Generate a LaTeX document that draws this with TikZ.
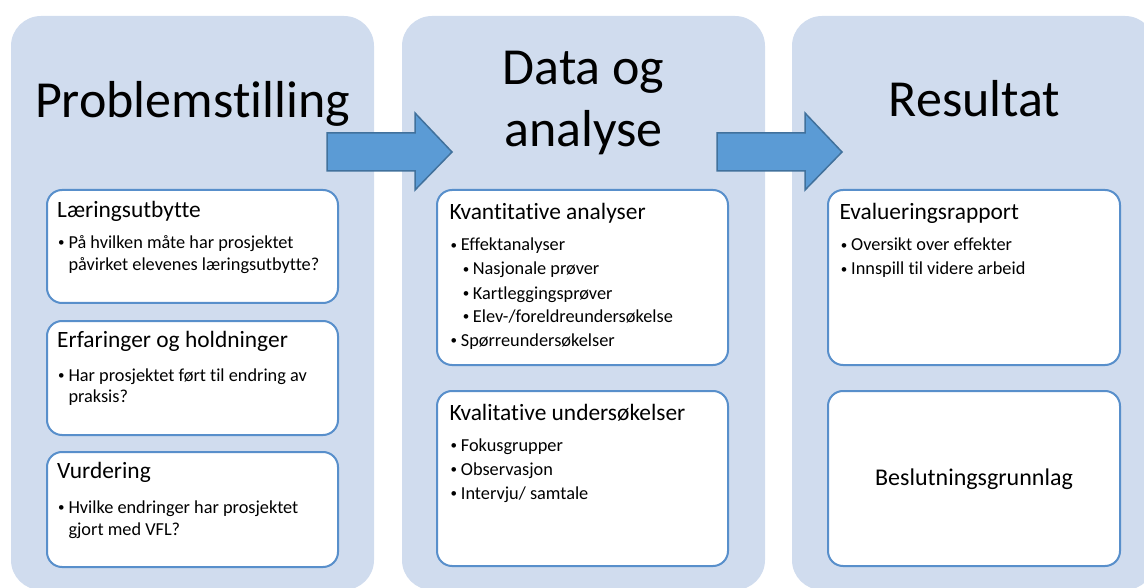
\documentclass[tikz,border=0pt]{standalone}
\usepackage{fontspec}
\setmainfont[Ligatures=NoCommon]{Carlito}
\definecolor{panelfill}{RGB}{208,220,238}
\definecolor{boxline}{RGB}{88,143,203}
\definecolor{arrowfill}{RGB}{91,155,213}
\definecolor{arrowline}{RGB}{65,113,156}
\tikzset{
  panel/.style={rectangle, fill=panelfill, rounded corners=30pt, minimum width=363pt, minimum height=574pt, inner sep=0pt},
  itembox/.style={rectangle, draw=boxline, fill=white, line width=2pt, rounded corners=15pt, inner sep=0pt},
  bigtitle/.style={anchor=base, inner sep=0pt, font=\fontsize{52}{62}\selectfont},
  heading/.style={anchor=base west, inner sep=0pt, font=\fontsize{23.4}{28}\selectfont},
  txt/.style={anchor=base west, inner sep=0pt, font=\fontsize{18.3}{22.3}\selectfont},
  dot/.style={anchor=base west, inner sep=0pt, font=\fontsize{13}{15}\selectfont}
}
\tikzset{bigarrow/.style={fill=arrowfill, draw=arrowline, line width=1.5pt, line join=miter}}
\begin{document}
\begin{tikzpicture}[x=1pt, y=-1pt]
\useasboundingbox (0,0) rectangle (1144,588);
\clip (0,0) rectangle (1144,588);
% panels
\node[panel] (p1) at (192.5,303) {};
\node[panel] (p2) at (583.5,303) {};
\node[panel] (p3) at (973.5,303) {};
% titles
\node[bigtitle] (t1) at (192.5,118) {Problemstilling};
\node[bigtitle] (t2a) at (583.5,85) {Data og};
\node[bigtitle] (t2b) at (583.5,147) {analyse};
\node[bigtitle] (t3) at (974.5,117) {Resultat};
% arrows
\draw[bigarrow] (327,133) -- (415,133) -- (415,113) -- (452,152) -- (415,190) -- (415,171) -- (327,171) -- cycle;
\draw[bigarrow] (717,133) -- (805,133) -- (805,113) -- (842,152) -- (805,190) -- (805,171) -- (717,171) -- cycle;
% left boxes
\node[itembox, minimum width=291pt, minimum height=113pt] (l1) at (192.5,246.5) {};
\node[itembox, minimum width=291pt, minimum height=114pt] (l2) at (192.5,378) {};
\node[itembox, minimum width=291pt, minimum height=115pt] (l3) at (192.5,509.5) {};
\node[heading] (l1h) at (57,217.5) {Læringsutbytte};
\node[dot] (l1b) at (58,246.5) {•};
\node[txt] (l1t1) at (68.3,248.3) {På hvilken måte har prosjektet};
\node[txt] (l1t2) at (68.3,270.7) {påvirket elevenes læringsutbytte?};
\node[heading] (l2h) at (57,347.7) {Erfaringer og holdninger};
\node[dot] (l2b) at (58,379.2) {•};
\node[txt] (l2t1) at (68.3,381) {Har prosjektet ført til endring av};
\node[txt] (l2t2) at (68.3,402.7) {praksis?};
\node[heading] (l3h) at (57,478.3) {Vurdering};
\node[dot] (l3b) at (58,511.5) {•};
\node[txt] (l3t1) at (68.3,513.3) {Hvilke endringer har prosjektet};
\node[txt] (l3t2) at (68.3,535) {gjort med VFL?};
% middle boxes
\node[itembox, minimum width=291pt, minimum height=175pt] (m1) at (582.5,277.5) {};
\node[itembox, minimum width=291pt, minimum height=175pt] (m2) at (582.5,478.5) {};
\node[heading] (m1h) at (449.3,219.3) {Kvantitative analyser};
\node[dot] (m1b1) at (450.5,249.2) {•};
\node[txt] (m1t1) at (460.7,251) {Effektanalyser};
\node[dot] (m1b2) at (462.7,273.2) {•};
\node[txt] (m1t2) at (472.7,275) {Nasjonale prøver};
\node[dot] (m1b3) at (462.7,297.2) {•};
\node[txt] (m1t3) at (472.7,299) {Kartleggingsprøver};
\node[dot] (m1b4) at (462.7,320.9) {•};
\node[txt] (m1t4) at (472.7,322.7) {Elev-/foreldreundersøkelse};
\node[dot] (m1b5) at (450.5,344.9) {•};
\node[txt] (m1t5) at (460.7,346.7) {Spørreundersøkelser};
\node[heading] (m2h) at (449.3,420) {Kvalitative undersøkelser};
\node[dot] (m2b1) at (450.5,449.9) {•};
\node[txt] (m2t1) at (460.7,451.7) {Fokusgrupper};
\node[dot] (m2b2) at (450.5,473.9) {•};
\node[txt] (m2t2) at (460.7,475.7) {Observasjon};
\node[dot] (m2b3) at (450.5,497.5) {•};
\node[txt] (m2t3) at (460.7,499.3) {Intervju/ samtale};
% right boxes
\node[itembox, minimum width=292pt, minimum height=175pt] (r1) at (974,277.5) {};
\node[itembox, minimum width=292pt, minimum height=175pt] (r2) at (974,478.5) {};
\node[heading] (r1h) at (839.3,219.3) {Evalueringsrapport};
\node[dot] (r1b1) at (840.7,249.2) {•};
\node[txt] (r1t1) at (851,251) {Oversikt over effekter};
\node[dot] (r1b2) at (840.7,273.2) {•};
\node[txt] (r1t2) at (851,275) {Innspill til videre arbeid};
\node[anchor=base, inner sep=0pt, font=\fontsize{24}{29}\selectfont] (r2t) at (974,485) {Beslutningsgrunnlag};
\end{tikzpicture}
\end{document}
